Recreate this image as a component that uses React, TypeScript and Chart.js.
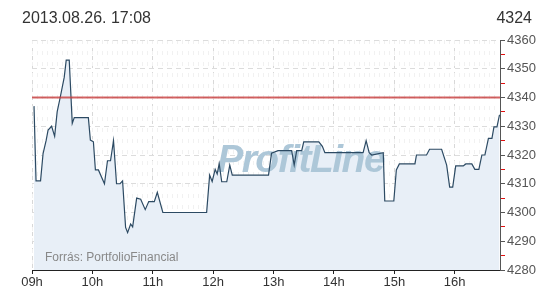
import React, { useEffect, useRef } from 'react';
import { Chart, registerables } from 'chart.js';

Chart.register(...registerables);

// ---- data (minutes after 09:00, index level) ----
const minutesFrom9 = [
  2, 4, 8.5, 11, 14, 16, 19.5, 22.5, 25, 28,
  32, 34, 37, 40, 42, 56, 58, 61, 63, 66,
  72, 75, 78, 81, 84, 87.5, 90, 93, 95, 98,
  100, 104, 108, 112.5, 116, 121.5, 124.5, 130, 173.5, 176.5,
  179, 182, 184, 186, 188.5, 193.5, 196.5, 199, 235, 238,
  244.5, 258, 260.5, 263, 268, 270, 285, 288.5, 291, 329,
  332, 335, 337.5, 349, 350.5, 359.5, 362, 365, 380.5, 382,
  392, 395, 407, 412, 415, 418, 421, 428.5, 431, 437,
  440, 444, 447, 450, 453.5, 457, 459, 462, 464.5,
];
const prices = [
  4337, 4311, 4311, 4320.5, 4325, 4328.7, 4330, 4326.5, 4335, 4340,
  4347, 4353, 4353, 4331, 4333, 4333, 4325.2, 4324.6, 4314.8, 4314.8,
  4310, 4318, 4318, 4325, 4310, 4310, 4311, 4294.8, 4293, 4296,
  4295, 4305, 4304.6, 4301, 4303.8, 4303.8, 4307, 4300, 4300, 4313,
  4310.8, 4315, 4313.4, 4317, 4310.7, 4310.7, 4316.5, 4313, 4313, 4320.6,
  4321.5, 4321.5, 4316.5, 4321.5, 4321.5, 4324.6, 4324.6, 4323, 4320.8, 4320.8,
  4325, 4320.8, 4320, 4320.8, 4304, 4304, 4314.8, 4316.9, 4316.9, 4320,
  4320, 4322, 4322, 4316.5, 4308.8, 4308.8, 4316.2, 4316.2, 4316.9, 4316.9,
  4315, 4315, 4320, 4320, 4325.8, 4325.8, 4329.8, 4329.8, 4334,
];
const referenceLevel = 4340;
const sessionStart = 0;
const sessionEnd = 465;
const yMin = 4280;
const yMax = 4360;
const hourStep = 60;
const minorMinuteStep = 5;
const yStep = 5;
const titleText = '2013.08.26. 17:08';
const lastValueText = '4324';
const sourceText = 'Forrás: PortfolioFinancial';
const watermarkText = 'ProfitLine';

const FONT = '"Liberation Sans", Arial, Helvetica, sans-serif';

export default function App() {
  const canvasRef = useRef<HTMLCanvasElement | null>(null);

  useEffect(() => {
    document.body.style.margin = '0';
    const canvas = canvasRef.current;
    if (!canvas) return;
    const pts = minutesFrom9.map((m, i) => ({ x: m, y: prices[i] }));
    const refPts = [
      { x: sessionStart, y: referenceLevel },
      { x: sessionEnd, y: referenceLevel },
    ];

    const watermark = {
      id: 'watermark',
      beforeDatasetDraw(chart: any, args: any) {
        if (args.index !== 1) return;
        const { ctx, chartArea: a } = chart;
        ctx.save();
        ctx.font = 'italic bold 39px ' + FONT;
        (ctx as any).letterSpacing = '-1.5px';
        ctx.fillStyle = '#adc7d8';
        ctx.textAlign = 'center';
        ctx.textBaseline = 'alphabetic';
        ctx.fillText(watermarkText, a.left + a.width * 0.574, a.top + a.height * 0.576);
        ctx.restore();
      },
    };

    const chart = new Chart(canvas, {
      type: 'line',
      data: {
        datasets: [
          {
            label: 'ref',
            data: refPts,
            borderColor: 'rgba(200,60,60,0.8)',
            borderWidth: 2,
            pointRadius: 0,
            fill: false,
            order: 0,
          },
          {
            label: 'line',
            data: pts,
            borderColor: '#2c4a63',
            borderWidth: 1.2,
            pointRadius: 0,
            tension: 0,
            fill: false,
            order: 1,
          },
          {
            label: 'area',
            data: pts,
            borderWidth: 0,
            borderColor: 'rgba(0,0,0,0)',
            backgroundColor: '#e8eff7',
            pointRadius: 0,
            tension: 0,
            fill: 'start',
            order: 2,
          },
        ],
      },
      options: {
        responsive: false,
        animation: false,
        devicePixelRatio: 1,
        layout: { padding: { top: 40, left: 32, right: 0, bottom: 0 } },
        plugins: { legend: { display: false }, tooltip: { enabled: false } },
        scales: {
          x: {
            type: 'linear',
            position: 'bottom',
            min: sessionStart,
            max: sessionEnd,
            afterFit: (s: any) => { s.height = 30; },
            ticks: {
              stepSize: hourStep,
              includeBounds: false,
              autoSkip: false,
              maxRotation: 0,
              padding: 1,
              color: '#333',
              font: { family: FONT, size: 13 },
              callback: (v: any) => String(9 + Math.round(Number(v) / 60)).padStart(2, '0') + 'h',
            },
            grid: {
              color: '#d8d8d8',
              tickColor: '#222',
              tickLength: 4,
              tickBorderDash: [],
            },
            border: { color: '#222', width: 1, dash: [4, 4] },
          },
          x2: {
            type: 'linear',
            position: 'top',
            min: sessionStart,
            max: sessionEnd,
            afterFit: (s: any) => { s.height = 0; },
            ticks: { display: false, stepSize: minorMinuteStep, includeBounds: false },
            grid: { color: '#f1f1f1', drawTicks: false },
            border: { display: false, dash: [4, 7] },
          },
          y: {
            type: 'linear',
            position: 'right',
            min: yMin,
            max: yMax,
            afterFit: (s: any) => { s.width = 50; },
            ticks: {
              stepSize: yStep,
              autoSkip: false,
              padding: 2,
              color: '#555',
              font: { family: FONT, size: 13 },
              callback: (v: any) => (Number(v) % 10 === 0 ? String(v) : ''),
            },
            grid: {
              color: (c: any) => (c.tick && c.tick.value % 10 === 0 ? '#dcdcdc' : 'rgba(0,0,0,0)'),
              tickColor: (c: any) => (c.tick && c.tick.value % 10 === 0 ? '#555' : '#e01010'),
              tickLength: 5,
              tickBorderDash: [],
            },
            border: { color: '#555', width: 1, dash: [5, 4] },
          },
        },
      },
      plugins: [watermark],
    } as any);

    return () => chart.destroy();
  }, []);

  return (
    <div style={{ position: 'relative', width: 550, height: 300, background: '#fff', fontFamily: FONT }}>
      <canvas ref={canvasRef} width={550} height={300} style={{ display: 'block', width: 550, height: 300 }} />
      <div style={{ position: 'absolute', left: 22, top: 9, fontSize: 16, color: '#333', lineHeight: '18px' }}>{titleText}</div>
      <div style={{ position: 'absolute', right: 18, top: 9, fontSize: 16, color: '#333', lineHeight: '18px' }}>{lastValueText}</div>
      <div style={{ position: 'absolute', left: 45, top: 250, fontSize: 12, color: '#888', lineHeight: '14px' }}>{sourceText}</div>
    </div>
  );
}
